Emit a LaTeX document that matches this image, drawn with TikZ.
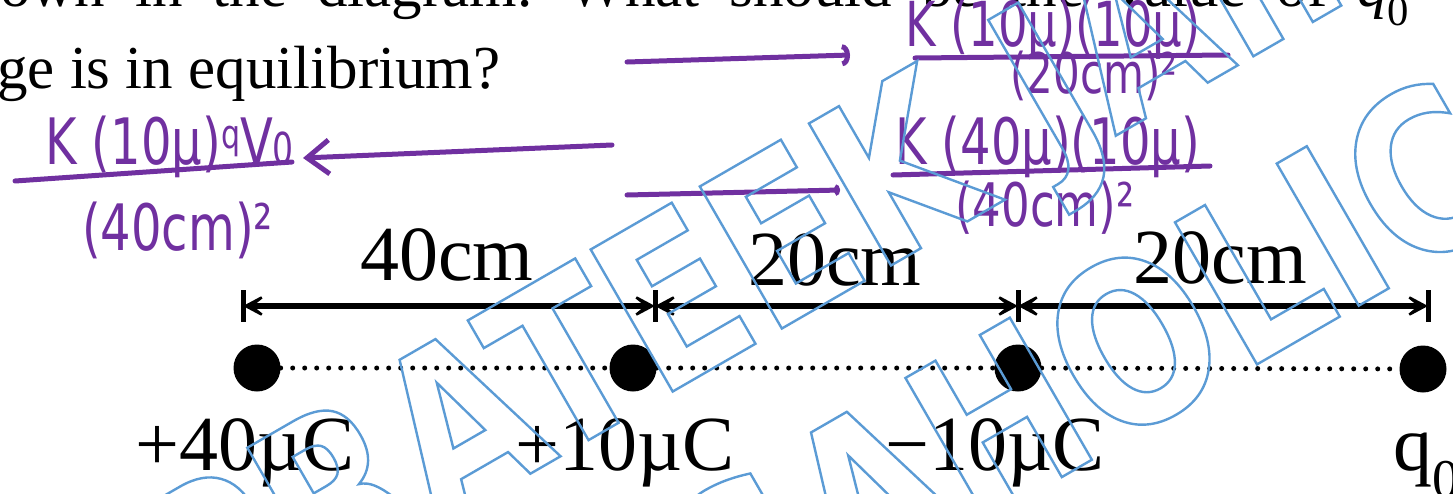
\documentclass[tikz,border=0pt]{standalone}
\usepackage{fontspec}
\setmainfont{Liberation Serif}
\newfontfamily\handfont{DejaVu Sans}[FakeStretch=0.75]
\newfontfamily\wmfont{DejaVu Sans}[FakeStretch=0.82]
\usetikzlibrary{arrows.meta}
\definecolor{hand}{RGB}{112,48,160}
\definecolor{wmblue}{RGB}{91,155,213}
\newcommand\wmoutline[1]{\special{pdf:literal direct 1 Tr 2.4 w}#1\special{pdf:literal direct 0 Tr}}
\begin{document}
\begin{tikzpicture}[x=1pt,y=-1pt,
  big/.style={font=\fontsize{78}{80}\selectfont, inner sep=0pt},
  body/.style={font=\fontsize{61}{70}\selectfont, inner sep=0pt},
  hw/.style={font=\handfont\fontsize{64}{66}\selectfont, text=hand, inner sep=0pt},
  hwline/.style={draw=hand, line width=5pt, line cap=round},
  dim/.style={line width=6pt, >={Stealth[length=30pt,width=32pt,inset=20pt]}, <->},
  tickmark/.style={line width=5pt},
  charge/.style={circle, fill=black, minimum size=47pt, inner sep=0pt},
  dotline/.style={line width=5pt, line cap=round, dash pattern=on 0pt off 12pt},
  wm/.style={font=\wmfont\bfseries\fontsize{225}{225}\selectfont, text=wmblue, rotate=30, inner sep=0pt}
]
\useasboundingbox (0,0) rectangle (1453,493);
\clip (0,0) rectangle (1453,493);

% printed text
\node[body, anchor=base west] (l1) at (0,6) {\spaceskip=30pt own in the diagram. What should be the value of \textit{q}\textsubscript{0}};
\node[body, anchor=base west] (l2) at (-3,88) {ge is in equilibrium?};

% dimension line
\coordinate (t1) at (243,306);
\coordinate (t2) at (655,306);
\coordinate (t3) at (1018,306);
\coordinate (t4) at (1428,306);
\foreach \t in {t1,t2,t3,t4}
  \draw[tickmark] ([yshift=16pt]\t) -- ([yshift=-16pt]\t);
\draw[dim] (t1) -- (t2);
\draw[dim] (t2) -- (t3);
\draw[dim] (t3) -- (t4);
\node[big, anchor=base] (d1) at (447,280) {40cm};
\node[big, anchor=base] (d2) at (835,285) {20cm};
\node[big, anchor=base] (d3) at (1220,283) {20cm};

% charges
\node[charge] (c1) at (257,368) {};
\node[charge] (c2) at (633,368) {};
\node[charge] (c3) at (1018,368) {};
\node[charge] (c4) at (1423,369) {};
\draw[dotline] (c1) -- (c2);
\draw[dotline] (c2) -- (c3);
\draw[dotline] (c3) -- (c4);
\node[big, anchor=base] (q1) at (245,470) {+40µC};
\node[big, anchor=base] (q2) at (625,470) {+10µC};
\node[big, anchor=base] (q3) at (995,470) {−10µC};
\node[big, anchor=base west] (q4) at (1393,470) {q\textsubscript{0}};

% handwriting: top right
\node[hw, font=\handfont\fontsize{62}{64}\selectfont, anchor=base west] (n1) at (905,46) {K (10µ)(10µ)};
\coordinate (b1s) at (915,58);
\coordinate (b1e) at (1228,55);
\draw[hwline] (b1s) -- (b1e);
\node[hw, font=\handfont\fontsize{56}{58}\selectfont, anchor=base west] (m1) at (1010,93) {(20cm)²};
\coordinate (a1s) at (627,62);
\coordinate (a1e) at (850,55);
\draw[hwline, -{Arc Barb[length=8pt,width=22pt]}] (a1s) -- (a1e);

% handwriting: middle right
\node[hw, anchor=base west] (n2) at (895,164) {K (40µ)(10µ)};
\coordinate (b2s) at (893,175);
\coordinate (b2e) at (1210,166);
\draw[hwline] (b2s) -- (b2e);
\node[hw, font=\handfont\fontsize{60}{62}\selectfont, anchor=base west] (m2) at (955,226) {(40cm)²};
\coordinate (a3s) at (627,195);
\coordinate (a3e) at (840,190);
\draw[hwline, -{Arc Barb[length=5pt,width=12pt]}] (a3s) -- (a3e);

% handwriting: left
\node[hw, anchor=base west] (n3) at (45,164) {K (10µ)\raisebox{16pt}{\fontsize{40}{40}\selectfont q}V\fontsize{44}{44}\selectfont 0};
\coordinate (b3s) at (15,181);
\coordinate (b3e) at (292,162);
\draw[hwline] (b3s) -- (b3e);
\node[hw, anchor=base west] (m3) at (82,250) {(40cm)²};
\coordinate (a2s) at (612,145);
\coordinate (a2e) at (303,158);
\draw[hwline, -{Straight Barb[length=22pt,width=34pt]}] (a2s) -- (a2e);

% watermark
\node[wm] (w1) at (785,258) {\wmoutline{PRATEEK JAIN}};
\node[wm] (w2) at (815,525) {\wmoutline{PHYSICSAHOLICS}};
\end{tikzpicture}
\end{document}
